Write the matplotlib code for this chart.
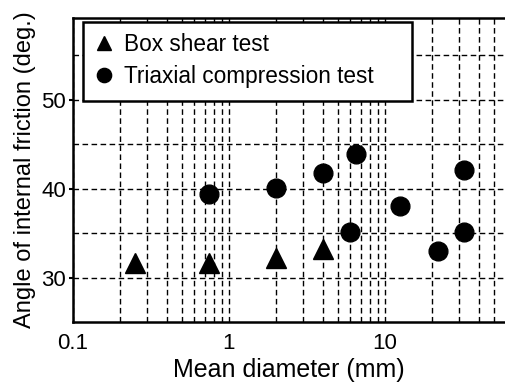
import matplotlib
matplotlib.use("Agg")
import matplotlib.pyplot as plt
from matplotlib.patches import Rectangle
from matplotlib.ticker import LogLocator, FixedLocator, NullFormatter, FixedFormatter

plt.rcParams['font.family'] = ['Liberation Sans', 'DejaVu Sans']

# box shear test
box_d = [0.25, 0.75, 2.0, 4.0]
box_phi = [31.6, 31.6, 32.2, 33.2]

# triaxial compression test
tri_d = [0.75, 2.0, 4.0, 6.5, 6.0, 12.5, 22.0, 32.0, 32.0]
tri_phi = [39.4, 40.1, 41.8, 43.9, 35.1, 38.0, 33.0, 35.1, 42.1]

xticks = [0.1, 1, 10]
xtick_labels = ["0.1", "1", "10"]
yticks = [30, 40, 50]

fig = plt.figure(figsize=(5.05, 3.85), dpi=100)
ax = fig.add_axes([73/505, 1 - 322/385, 1 - 73/505, (322 - 18)/385])

ax.set_xscale('log')
ax.set_xlim(0.1, 59)
ax.set_ylim(25, 59.2)

ax.plot(box_d, box_phi, linestyle='none', marker='^', markersize=14,
        color='black', label='Box shear test', zorder=4)
ax.plot(tri_d, tri_phi, linestyle='none', marker='o', markersize=13.5,
        color='black', label='Triaxial compression test', zorder=4)

ax.xaxis.set_major_locator(FixedLocator(xticks))
ax.xaxis.set_major_formatter(FixedFormatter(xtick_labels))
ax.xaxis.set_minor_locator(LogLocator(base=10, subs=range(2, 10)))
ax.xaxis.set_minor_formatter(NullFormatter())
ax.set_yticks(yticks)
ax.set_yticks([35, 45, 55], minor=True)

ax.grid(True, which='both', linestyle=(0, (4, 2.5)), color='black', linewidth=1.0)
ax.tick_params(axis='x', which='both', length=0, pad=8, labelsize=16)
ax.tick_params(axis='y', which='major', direction='out', length=3, width=1.5,
               pad=2, labelsize=16)
ax.tick_params(axis='y', which='minor', length=0)

for s in ['left', 'bottom', 'top']:
    ax.spines[s].set_linewidth(1.8)
ax.spines['right'].set_visible(False)

ax.set_xlabel('Mean diameter (mm)', fontsize=18, labelpad=3)
ax.set_ylabel('Angle of internal friction (deg.)', fontsize=17, labelpad=4)

# legend frame
box = Rectangle((0.023, 0.727), 0.762, 0.26, transform=ax.transAxes,
                facecolor='white', edgecolor='black', linewidth=1.8, zorder=5)
ax.add_patch(box)
leg = ax.legend(loc='upper left', bbox_to_anchor=(0.03, 0.98), frameon=False,
                fontsize=16.3, markerscale=0.76, handlelength=0.8,
                handletextpad=0.5, labelspacing=0.38, borderaxespad=0)
leg.set_zorder(6)

fig.savefig('out.png', dpi=100)
